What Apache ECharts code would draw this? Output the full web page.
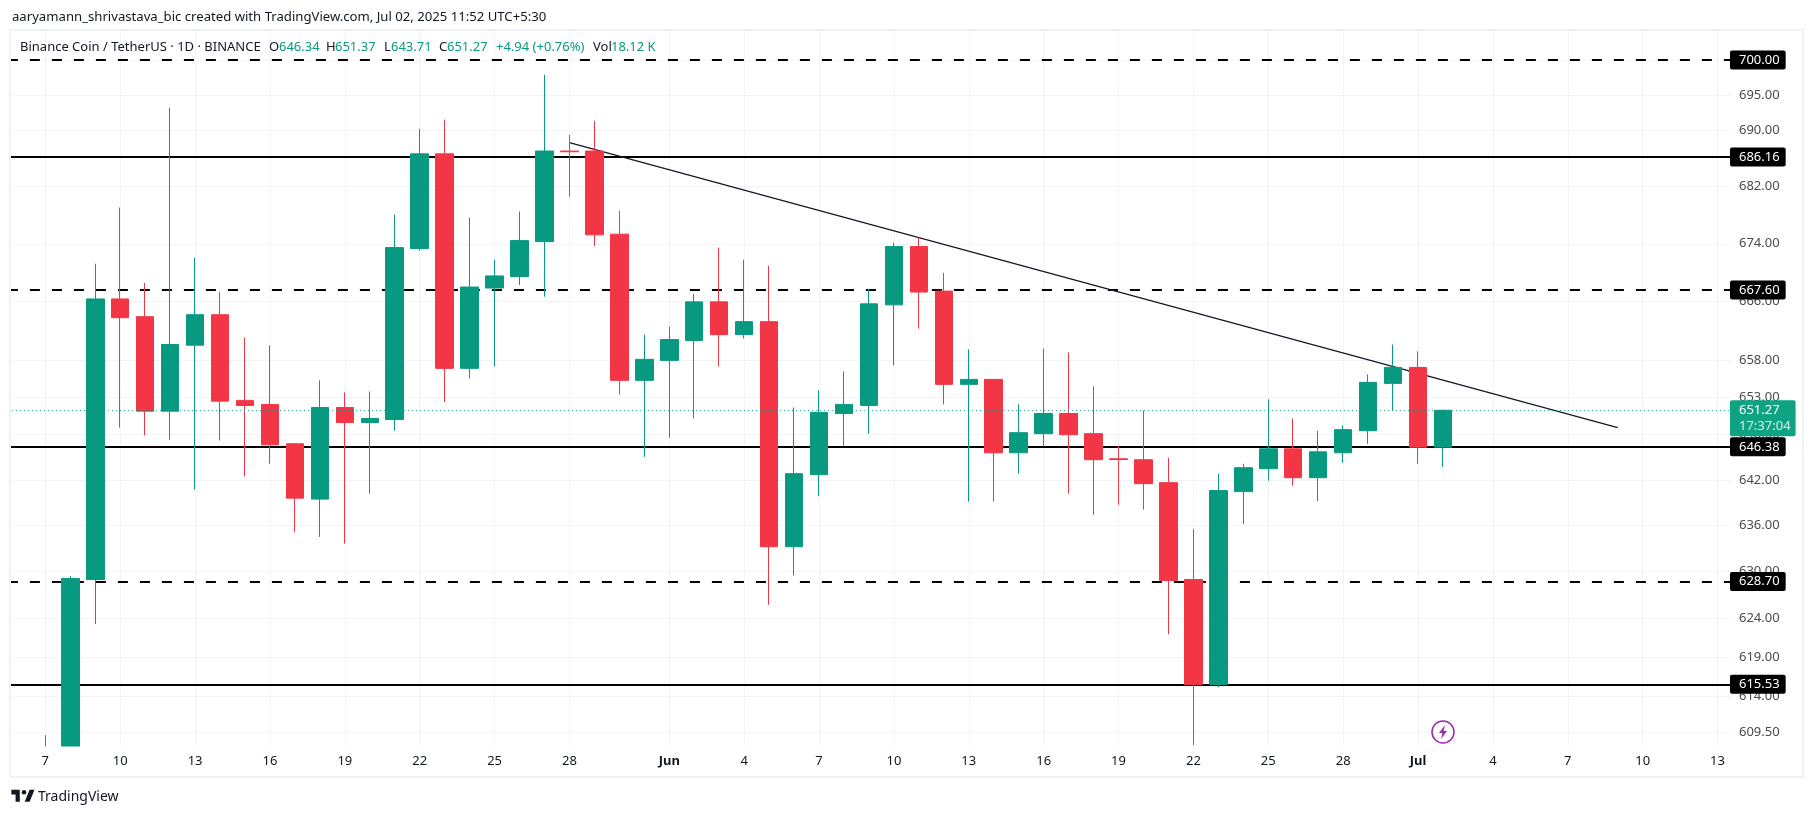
<!DOCTYPE html>
<html>
<head>
<meta charset="utf-8">
<title>BNB/USDT</title>
<script src="https://cdn.jsdelivr.net/npm/echarts@6/dist/echarts.min.js"></script>
<style>
html, body { margin: 0; padding: 0; background: #fff; }
#chart { width: 1814px; height: 816px; }
</style>
</head>
<body>
<div id="chart"></div>
<script>
// daily bands, the first one is only there to leave room left of May 7
var dates = [
  'May 6','May 7','May 8','May 9','May 10','May 11','May 12','May 13','May 14','May 15','May 16','May 17','May 18','May 19',
  'May 20','May 21','May 22','May 23','May 24','May 25','May 26','May 27','May 28','May 29','May 30','May 31',
  'Jun 1','Jun 2','Jun 3','Jun 4','Jun 5','Jun 6','Jun 7','Jun 8','Jun 9','Jun 10','Jun 11','Jun 12','Jun 13','Jun 14','Jun 15',
  'Jun 16','Jun 17','Jun 18','Jun 19','Jun 20','Jun 21','Jun 22','Jun 23','Jun 24','Jun 25','Jun 26','Jun 27','Jun 28','Jun 29','Jun 30',
  'Jul 1','Jul 2','Jul 3','Jul 4','Jul 5','Jul 6','Jul 7','Jul 8','Jul 9','Jul 10','Jul 11','Jul 12','Jul 13'
];
var tickDates = [
  'May 7','May 10','May 13','May 16','May 19','May 22','May 25','May 28','Jun 1','Jun 4','Jun 7','Jun 10','Jun 13','Jun 16',
  'Jun 19','Jun 22','Jun 25','Jun 28','Jul 1','Jul 4','Jul 7','Jul 10','Jul 13'
];

// May 6 to Jul 2
var opens = [null,
  603, 605, 628.96, 666.38, 663.95, 651.15, 660.06, 664.22, 652.6, 652.06, 646.79, 639.46, 651.65, 649.62, 650.03,
  673.33, 686.6, 656.92, 667.88, 669.45, 674.3, 687.0, 687.0, 675.33, 655.3,
  658.0, 660.7, 665.98, 661.5, 663.27, 633.22, 642.69, 650.84, 651.92, 665.57, 673.61, 667.46, 654.76, 655.43, 645.59,
  648.14, 650.84, 648.14, 644.8, 644.67, 641.63, 628.96, 615.5, 640.45, 643.48, 646.12, 642.29, 645.59, 648.54, 654.89,
  657.05, 646.34
];
var closes = [null,
  605, 629.1, 666.38, 663.81, 651.15, 660.16, 664.22, 652.5, 651.92, 646.65, 639.59, 651.65, 649.62, 650.17, 673.47,
  686.6, 656.92, 668.02, 669.55, 674.44, 687.0, 686.9, 675.24, 655.3, 658.14,
  660.84, 665.98, 661.5, 663.27, 633.22, 642.82, 650.98, 652.06, 665.71, 673.61, 667.33, 654.76, 655.43, 645.59, 648.27,
  650.84, 648.0, 644.67, 644.7, 641.5, 628.83, 615.47, 640.58, 643.61, 646.12, 642.29, 645.72, 648.68, 655.03, 657.05,
  646.34, 651.27
];
var lows = [null,
  598, 601, 623.2, 648.95, 647.91, 647.33, 640.71, 647.23, 642.46, 644.14, 635.16, 634.5, 633.62, 640.18, 648.54,
  673.05, 652.36, 655.57, 657.19, 668.3, 666.69, 680.55, 673.7, 653.41, 645.06,
  647.6, 650.17, 657.19, 660.98, 625.7, 629.49, 639.85, 646.52, 648.14, 657.33, 662.33, 652.06, 639.13, 639.13, 642.82,
  646.42, 640.18, 637.41, 638.73, 638.07, 621.92, 607.87, 615.15, 636.2, 641.9, 641.24, 639.2, 644.27, 646.79, 651.28,
  644.14, 643.71
];
var highs = [null,
  609.1, 629.4, 671.23, 679.05, 668.58, 693.15, 672.07, 667.33, 661.1, 660.03, 646.9, 655.3, 653.68, 653.8, 678.07,
  690.15, 691.44, 677.65, 671.79, 678.49, 697.86, 689.3, 691.3, 678.6, 661.5,
  662.6, 667.06, 673.47, 671.79, 670.95, 651.65, 653.95, 656.51, 667.74, 674.16, 674.88, 669.97, 659.49, 655.5, 652.06,
  659.62, 659.08, 654.49, 646.52, 651.25, 644.93, 635.56, 642.82, 644.14, 652.74, 650.17, 648.54, 649.22, 656.1, 660.16,
  659.22, 651.37
];

// price scale labels and drawn levels
var priceTicks = [700, 695, 690, 682, 674, 666, 658, 653, 648, 642, 636, 630, 624, 619, 614, 609.5];
var solidLevels = [686.16, 646.38, 615.53];
var dashedLevels = [700, 667.6, 628.7];
var lastPrice = 651.27;
var countdown = '17:37:04';
var trendDates = ['May 28', 'Jul 9'];
var trendPrices = [688.2, 648.95];

var FONT = '"Noto Sans", sans-serif';
var UP = '#089981';
var DOWN = '#F23645';
var INK = '#131722';

var candles = dates.slice(0, opens.length).map(function (d, i) {
  return [opens[i], closes[i], lows[i], highs[i]];
});

function isTick(i, v) {
  return tickDates.indexOf(v) >= 0;
}

function levelLine(v, dash) {
  return {
    yAxis: v,
    lineStyle: { color: '#000', width: 2, type: dash ? [10, 12] : 'solid' },
    label: {
      show: true, position: 'end', distance: 0, formatter: v.toFixed(2),
      color: '#fff', backgroundColor: '#000', borderRadius: 2,
      padding: [4, 6, 3, 9], fontFamily: FONT, fontSize: 13, lineHeight: 12
    }
  };
}

// header text, x positions as in the screenshot
var headerBits = [
  ['Binance Coin / TetherUS · 1D · BINANCE', 20, INK], ['O', 269, INK], ['646.34', 279, UP], ['H', 326, INK], ['651.37', 335, UP],
  ['L', 384, INK], ['643.71', 391, UP], ['C', 439, INK], ['651.27', 447, UP], ['+4.94 (+0.76%)', 496, UP], ['Vol', 593, INK], ['18.12 K', 611, UP]
];
var headerTexts = headerBits.map(function (b) {
  return { type: 'text', x: b[1], y: 47, z: 20, style: { text: b[0], fill: b[2], font: '13px ' + FONT, textVerticalAlign: 'middle' } };
});

var chart = echarts.init(document.getElementById('chart'));
chart.setOption({
  animation: false,
  backgroundColor: '#fff',
  grid: { left: 7.9, right: 1814 - 1730, top: 31, bottom: 816 - 746 },
  xAxis: [
    { // gridlines, stays under the candles
      type: 'category',
      data: dates,
      axisLine: { show: false },
      axisTick: { show: false },
      axisLabel: { show: false },
      splitLine: {
        show: true, alignWithLabel: true,
        lineStyle: { color: '#f2f3f5', width: 1 },
        interval: isTick
      }
    },
    { // labels, above the white strip that hides candles running off the pane
      type: 'category',
      data: dates,
      position: 'bottom',
      z: 6,
      axisLine: { show: false },
      axisTick: { show: false },
      splitLine: { show: false },
      axisLabel: {
        margin: 9, fontFamily: FONT, fontSize: 13, color: INK,
        interval: isTick,
        formatter: function (v) {
          var p = v.split(' ');
          return p[1] === '1' ? '{m|' + p[0] + '}' : p[1];
        },
        rich: { m: { fontFamily: FONT, fontSize: 13, fontWeight: 'bold', color: INK } }
      }
    }
  ],
  yAxis: {
    type: 'log',
    logBase: 10,
    min: 607.75,
    max: 704.2,
    position: 'right',
    axisLine: { show: false },
    axisTick: { show: false },
    axisLabel: { show: false },
    splitLine: { show: false },
    minorSplitLine: { show: false }
  },
  series: [
    { // price scale
      type: 'line', data: [], z: 1, silent: true,
      markLine: {
        z: 1, symbol: ['none', 'none'], silent: true, animation: false,
        data: priceTicks.map(function (v) {
          return {
            yAxis: v,
            lineStyle: { color: '#f2f3f5', width: 1, type: 'solid' },
            label: { show: true, position: 'end', distance: 9, formatter: v.toFixed(2), color: '#4a4a4a', fontFamily: FONT, fontSize: 13 }
          };
        })
      }
    },
    { // drawn horizontal levels
      type: 'line', data: [], z: 2, silent: true,
      markLine: {
        z: 2, symbol: ['none', 'none'], silent: true, animation: false,
        data: solidLevels.map(function (v) { return levelLine(v, false); })
          .concat(dashedLevels.map(function (v) { return levelLine(v, true); }))
      }
    },
    { // trend line
      type: 'line', z: 2, silent: true, symbol: 'none',
      data: trendDates.map(function (d, i) { return [d, trendPrices[i]]; }),
      lineStyle: { color: '#131722', width: 1.2 }
    },
    {
      type: 'candlestick', z: 3, silent: true, barWidth: 18,
      data: candles,
      itemStyle: { color: UP, color0: DOWN, borderColor: UP, borderColor0: DOWN, borderWidth: 1 }
    },
    { // last price
      type: 'line', data: [], z: 4, silent: true,
      markLine: {
        z: 4, symbol: ['none', 'none'], silent: true, animation: false,
        data: [{
          yAxis: lastPrice,
          lineStyle: { color: 'rgba(8,153,129,0.85)', width: 1, type: [1, 3] },
          label: {
            show: true, position: 'end', distance: 0, offset: [0, 8],
            formatter: '{a|' + lastPrice.toFixed(2) + '}\n{b|' + countdown + '}',
            backgroundColor: '#0fa383', borderRadius: 2, padding: [2, 5, 2, 9],
            rich: {
              a: { color: '#fff', fontFamily: FONT, fontSize: 13, lineHeight: 16 },
              b: { color: '#d5f2ea', fontFamily: FONT, fontSize: 13, lineHeight: 16 }
            }
          }
        }]
      }
    }
  ],
  graphic: [
    { type: 'rect', z: 15, shape: { x: 0, y: 0, width: 10, height: 816 }, style: { fill: '#fff' } },
    { type: 'rect', z: 5, shape: { x: 10, y: 746.5, width: 1793, height: 70 }, style: { fill: '#fff' } },
    { type: 'rect', z: 16, shape: { x: 10, y: 30, width: 1793, height: 747 }, style: { fill: 'none', stroke: '#f0f1f4', lineWidth: 2 } },
    { type: 'text', x: 12, y: 17, z: 20, style: { text: 'aaryamann_shrivastava_bic created with TradingView.com, Jul 02, 2025 11:52 UTC+5:30', fill: INK, font: '13.15px ' + FONT, textVerticalAlign: 'middle' } },
    // logo
    { type: 'polygon', z: 20, shape: { points: [[11.4, 789.8], [19.8, 789.8], [19.8, 801.8], [15.6, 801.8], [15.6, 794.6], [11.4, 794.6]] }, style: { fill: INK } },
    { type: 'polygon', z: 20, shape: { points: [[29.6, 801.8], [24.7, 801.8], [29.6, 789.8], [34.5, 789.8]] }, style: { fill: INK } },
    { type: 'circle', z: 20, shape: { cx: 24, cy: 792.2, r: 2.3 }, style: { fill: INK } },
    { type: 'text', x: 38, y: 797, z: 20, style: { text: 'TradingView', fill: INK, font: '14px ' + FONT, textVerticalAlign: 'middle' } },
    // lightning badge
    { type: 'circle', z: 20, shape: { cx: 1443, cy: 732, r: 11 }, style: { fill: '#fff', stroke: '#9c27b0', lineWidth: 1.5 } },
    { type: 'polygon', z: 21, shape: { points: [[1445, 725], [1439, 733], [1442.5, 733], [1441, 739], [1447, 731], [1443.5, 731]] }, style: { fill: '#9c27b0' } }
  ].concat(headerTexts)
});
</script>
</body>
</html>
